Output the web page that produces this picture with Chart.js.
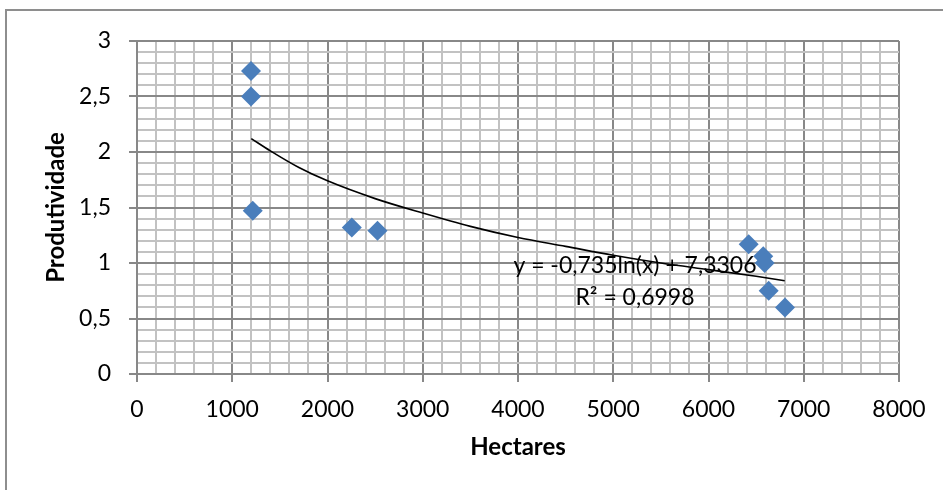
<!DOCTYPE html>
<html>
<head>
<meta charset="utf-8">
<script src="https://cdn.jsdelivr.net/npm/chart.js@4.4.1/dist/chart.umd.min.js"></script>
<style>
  html, body { margin: 0; padding: 0; background: #fff; }
  #wrap { position: relative; width: 943px; height: 490px; overflow: hidden; }
  #frame { position: absolute; left: 5px; top: 9px; width: 960px; height: 520px; border: 2px solid #8e8e8e; box-sizing: border-box; }
  #box { position: absolute; left: 0; top: 0; width: 943px; height: 490px; }
</style>
</head>
<body>
<div id="wrap">
  <div id="frame"></div>
  <div id="box"><canvas id="chart"></canvas></div>
</div>
<script>
// Scatter: hectares vs produtividade
const hectares = [1197, 1197, 1215, 2255, 2525, 6422, 6575, 6590, 6632, 6803];
const produtividade = [2.73, 2.50, 1.47, 1.32, 1.29, 1.17, 1.06, 1.00, 0.75, 0.60];

// Log trendline
const trendX = [1200, 1400, 1700, 2000, 2500, 3000, 3500, 4000, 4500, 5000, 5500, 6000, 6500, 6800];
const trendY = [2.12, 2.01, 1.86, 1.74, 1.58, 1.45, 1.33, 1.23, 1.15, 1.07, 1.00, 0.94, 0.88, 0.84];

const equationLines = ['y = -0,735ln(x) + 7,3306', 'R² = 0,6998'];

const xMax = 8000, xMajor = 1000, xMinor = 200;
const yMax = 3, yMajor = 0.5, yMinor = 0.1;

const FONT = 'Lato, "Open Sans", sans-serif';
const majorGrid = '#888888';
const minorGrid = '#c2c2c2';

function isMajor(v, step) {
  const r = v / step;
  return Math.abs(r - Math.round(r)) < 1e-6;
}

const scatterPts = hectares.map((x, i) => ({ x: x, y: produtividade[i] }));
const trendPts = trendX.map((x, i) => ({ x: x, y: trendY[i] }));

const equationLabel = {
  id: 'equationLabel',
  afterDatasetsDraw(chart) {
    const { ctx, scales: { x, y } } = chart;
    const cx = x.getPixelForValue(5228);
    ctx.save();
    ctx.font = '23px ' + FONT;
    ctx.fillStyle = '#000';
    ctx.textAlign = 'center';
    ctx.textBaseline = 'middle';
    ctx.fillText(equationLines[0], cx, y.getPixelForValue(0.98));
    ctx.fillText(equationLines[1], cx, y.getPixelForValue(0.685));
    ctx.restore();
  }
};

new Chart(document.getElementById('chart'), {
  type: 'scatter',
  data: {
    datasets: [
      {
        label: 'Tendência',
        data: trendPts,
        showLine: true,
        borderColor: '#000',
        borderWidth: 1.6,
        pointRadius: 0,
        cubicInterpolationMode: 'monotone',
        order: 0
      },
      {
        label: 'Produtividade',
        data: scatterPts,
        pointStyle: 'rectRot',
        pointRadius: 10,
        backgroundColor: '#4a7ebb',
        borderColor: '#4a7ebb',
        borderWidth: 0,
        order: 1
      }
    ]
  },
  options: {
    responsive: true,
    maintainAspectRatio: false,
    animation: false,
    layout: { padding: { left: 0, top: 41, right: 44, bottom: 0 } },
    plugins: { legend: { display: false }, tooltip: { enabled: false } },
    scales: {
      x: {
        type: 'linear',
        min: 0, max: xMax,
        afterFit(s) { s.height = 116; },
        border: { color: majorGrid, width: 2 },
        grid: {
          color: c => isMajor(c.tick.value, xMajor) ? majorGrid : minorGrid,
          tickColor: c => isMajor(c.tick.value, xMajor) ? majorGrid : 'rgba(0,0,0,0)',
          lineWidth: 2,
          tickLength: 8
        },
        ticks: {
          stepSize: xMinor,
          autoSkip: false,
          maxRotation: 0,
          padding: 14,
          color: '#000',
          font: { family: FONT, size: 23 },
          callback: v => isMajor(v, xMajor) ? String(v) : ''
        },
        title: {
          display: true,
          text: 'Hectares',
          color: '#000',
          font: { family: FONT, size: 24, weight: 'bold' },
          padding: { top: 0, bottom: 28 }
        }
      },
      y: {
        type: 'linear',
        min: 0, max: yMax,
        afterFit(s) { s.width = 137; },
        border: { color: majorGrid, width: 2 },
        grid: {
          color: c => isMajor(c.tick.value, yMajor) ? majorGrid : minorGrid,
          tickColor: c => isMajor(c.tick.value, yMajor) ? majorGrid : 'rgba(0,0,0,0)',
          lineWidth: 2,
          tickLength: 8
        },
        ticks: {
          stepSize: yMinor,
          autoSkip: false,
          padding: 18,
          color: '#000',
          font: { family: FONT, size: 23 },
          callback: v => isMajor(v, yMajor) ? String(Math.round(v * 10) / 10).replace('.', ',') : ''
        },
        title: {
          display: true,
          text: 'Produtividade',
          color: '#000',
          font: { family: FONT, size: 24, weight: 'bold' },
          padding: { top: 42, bottom: 0 }
        }
      }
    }
  },
  plugins: [equationLabel]
});
</script>
</body>
</html>
